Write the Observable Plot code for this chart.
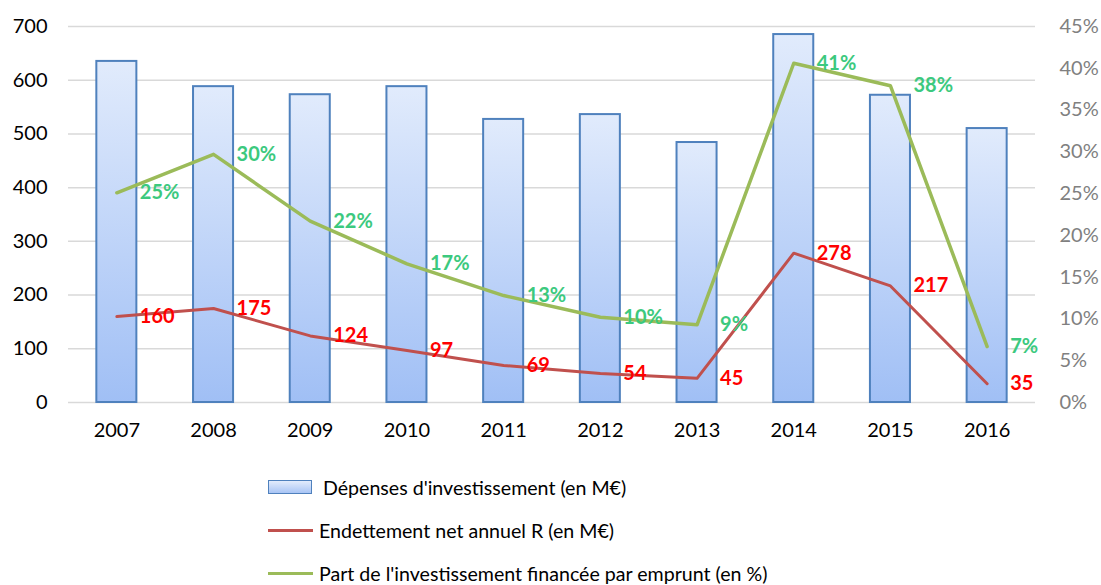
<!DOCTYPE html>
<html><head><meta charset="utf-8">
<script src="https://cdn.jsdelivr.net/npm/d3@7"></script>
<script src="https://cdn.jsdelivr.net/npm/@observablehq/plot@0.6"></script>
<style>
body{margin:0;background:#fff;font-family:Lato,"Open Sans",sans-serif;}
#wrap{position:relative;width:1101px;height:585px;overflow:hidden;}
.leg{position:absolute;font-size:19.6px;color:#000;display:flex;align-items:center;white-space:nowrap;height:30px;}
.sw1{width:42px;height:12px;border:1.5px solid #4f81bd;background:linear-gradient(#e3ecfc,#a9c5f5);margin-right:11px;}
.swl{width:45px;height:3px;margin-right:6px;}
</style></head><body>
<div id="wrap">
<div id="chart"></div>
<div class="leg" style="left:268px;top:472px;"><div class="sw1"></div><span>Dépenses d'investissement (en M€)</span></div>
<div class="leg" style="left:268px;top:515px;"><div class="swl" style="background:#c0504d"></div><span>Endettement net annuel R (en M€)</span></div>
<div class="leg" style="left:268px;top:558px;"><div class="swl" style="background:#9bbb59"></div><span>Part de l'investissement financée par emprunt (en %)</span></div>
</div>
<script>
const years = [2007, 2008, 2009, 2010, 2011, 2012, 2013, 2014, 2015, 2016];
const depenses = [635, 588, 573, 588, 527, 536, 484, 685, 572, 510];
const endettement = [160, 175, 124, 97, 69, 54, 45, 278, 217, 35];
const partPct = [25.1, 29.7, 21.7, 16.6, 12.8, 10.2, 9.3, 40.6, 37.9, 6.7];
const partLabels = ["25%", "30%", "22%", "17%", "13%", "10%", "9%", "41%", "38%", "7%"];
const leftTicks = [0, 100, 200, 300, 400, 500, 600, 700];
const rightTicks = [0, 5, 10, 15, 20, 25, 30, 35, 40, 45];
const YMAX = 700, PMAX = 45;

const data = years.map((y, i) => ({year: y, dep: depenses[i], end: endettement[i], pct: partPct[i], plab: partLabels[i]}));
const toLeft = p => p * YMAX / PMAX;
const half = 0.207;

const chart = Plot.plot({
  width: 1101, height: 450,
  marginLeft: 68, marginRight: 66, marginTop: 26, marginBottom: 48,
  style: {fontFamily: "Lato, 'Open Sans', sans-serif", background: "#fff"},
  x: {type: "linear", domain: [2006.5, 2016.5]},
  y: {domain: [0, YMAX]},
  marks: [
    Plot.ruleY(leftTicks, {stroke: "#d9d9d9", strokeWidth: 1.5}),
    Plot.rectY(data, {x1: d => d.year - half, x2: d => d.year + half, y1: 0, y2: "dep", fill: "url(#barGrad)", stroke: "#4f81bd", strokeWidth: 2}),
    Plot.line(data, {x: "year", y: "end", stroke: "#c0504d", strokeWidth: 3}),
    Plot.line(data, {x: "year", y: d => toLeft(d.pct), stroke: "#9bbb59", strokeWidth: 3.5}),
    Plot.text(data, {x: "year", y: "end", text: d => String(d.end), dx: 23, textAnchor: "start", lineAnchor: "middle", fill: "#ff0000", fontWeight: "bold", fontSize: 20}),
    Plot.text(data, {x: "year", y: d => toLeft(d.pct), text: "plab", dx: 23, textAnchor: "start", lineAnchor: "middle", fill: "#3cc97e", fontWeight: "bold", fontSize: 20}),
    Plot.axisY({ticks: leftTicks, tickSize: 0, tickPadding: 21, fontSize: 20, label: null, fill: "#000"}),
    Plot.axisY({anchor: "right", ticks: rightTicks.map(toLeft), tickFormat: v => Math.round(v * PMAX / YMAX) + "%", tickSize: 0, tickPadding: 24, fontSize: 20, label: null, fill: "#808080"}),
    Plot.axisX({ticks: years, tickFormat: d => String(d), tickSize: 0, tickPadding: 20, fontSize: 20, label: null, fill: "#000"})
  ]
});
const svg = d3.select(chart);
const grad = svg.insert("defs", ":first-child").append("linearGradient")
  .attr("id", "barGrad").attr("x1", 0).attr("y1", 0).attr("x2", 0).attr("y2", 1);
grad.append("stop").attr("offset", "0%").attr("stop-color", "#e1ebfc");
grad.append("stop").attr("offset", "100%").attr("stop-color", "#a0bff5");
document.getElementById("chart").appendChild(chart);
</script>
</body></html>
